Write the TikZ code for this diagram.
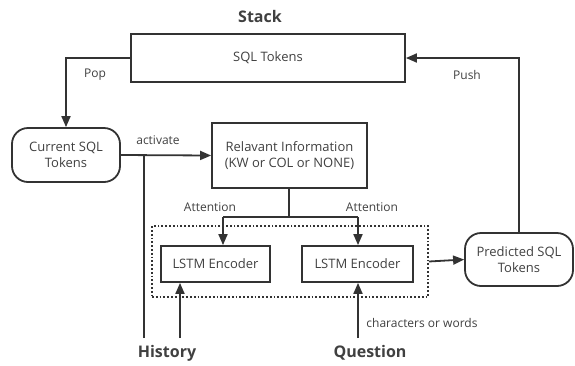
\documentclass[tikz,border=0pt]{standalone}
\usepackage{fontspec}
\setmainfont{Open Sans}
\usetikzlibrary{arrows.meta}
\definecolor{ln}{HTML}{333333}
\definecolor{tx}{HTML}{404040}
\begin{document}
\begin{tikzpicture}[x=1pt,y=-1pt,
  every node/.style={text=tx,font=\fontsize{13}{15.5}\selectfont},
  box/.style={draw=ln,line width=1.8pt,align=center,inner sep=0pt},
  rbox/.style={box,rounded corners=16pt},
  conn/.style={draw=ln,line width=1.8pt},
  arr/.style={conn,-{Triangle[length=11pt,width=9pt]}},
  lbl/.style={font=\fontsize{12}{14}\selectfont},
  big/.style={font=\fontsize{16}{18}\selectfont\bfseries}]
\useasboundingbox (0,0) rectangle (575,365);
\node[box,minimum width=274pt,minimum height=48pt] (stack) at (268,58) {SQL Tokens};
\node[big] (stacklbl) at (260,16) {Stack};
\node[rbox,minimum width=108pt,minimum height=54pt] (cur) at (66,155) {Current SQL\\Tokens};
\node[box,minimum width=155pt,minimum height=65pt] (rel) at (289.5,155.5) {Relavant Information\\(KW or COL or NONE)};
\node[box,minimum width=109pt,minimum height=36pt] (l1) at (215.5,264) {LSTM Encoder};
\node[box,minimum width=111pt,minimum height=36pt] (l2) at (357.5,264) {LSTM Encoder};
\node[draw=ln,line width=1.8pt,dotted,minimum width=276pt,minimum height=71pt,inner sep=0pt] (dot) at (290,261.5) {};
\node[rbox,minimum width=108pt,minimum height=53pt] (pred) at (519,259.5) {Predicted SQL\\Tokens};
\node[big] (hist) at (167,353) {History};
\node[big] (ques) at (370,353) {Question};
% Pop
\draw[arr] (stack.west) -| (cur.north);
\node[lbl] (poplbl) at (95,75) {Pop};
% Push
\draw[arr] (pred.north) |- (stack.east);
\node[lbl] (pushlbl) at (467,75) {Push};
% activate
\draw[arr] (cur.east) -- (rel.west);
\node[lbl] (actlbl) at (158,140) {activate};
\coordinate (hj) at (144,156);
\coordinate (hb) at (144,338);
\draw[conn] (hb) -- (hj);
% history arrow
\coordinate (ha) at (180,338);
\draw[arr] (ha) -- (ha |- l1.south);
% question arrow
\coordinate (qa) at (358,338);
\draw[arr] (qa) -- (qa |- l2.south);
\node[lbl] (cw) at (422,323) {characters or words};
% attention
\coordinate (aj) at (289,217);
\coordinate (al) at (223,217);
\coordinate (ar) at (358,217);
\draw[conn] (rel.south -| aj) -- (aj);
\draw[conn] (al) -- (ar);
\draw[arr] (al) -- (al |- l1.north);
\draw[arr] (ar) -- (ar |- l2.north);
\node[lbl] (att1) at (210,207) {Attention};
\node[lbl] (att2) at (372,207) {Attention};
% to predicted
\draw[arr] (dot.east) -- (pred.west);
\end{tikzpicture}
\end{document}
